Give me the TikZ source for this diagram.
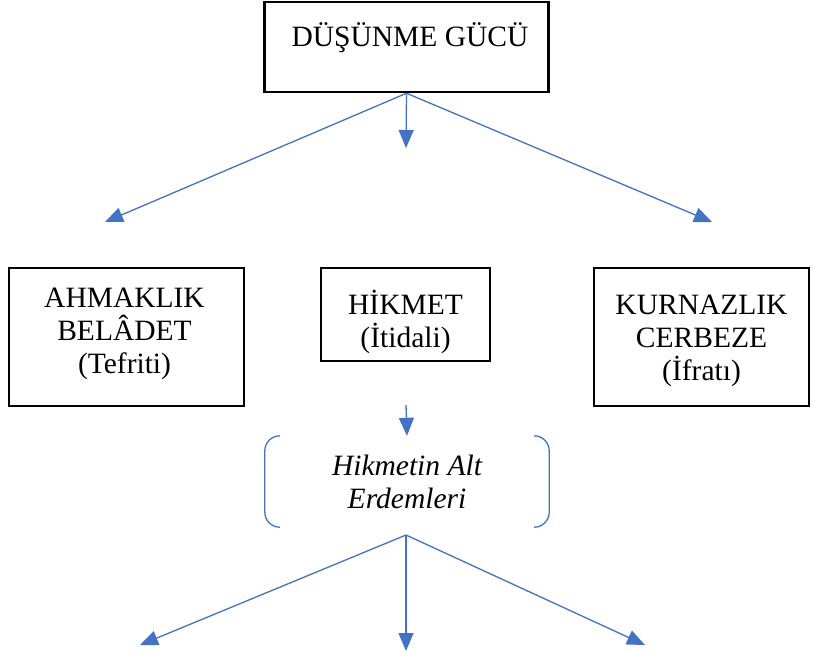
\documentclass[tikz,border=0pt]{standalone}
\usepackage{fontspec}
\setmainfont{Liberation Serif}
\usetikzlibrary{arrows.meta}
\definecolor{okmavi}{HTML}{4472C4}

\begin{document}
\begin{tikzpicture}[x=1pt, y=-1pt]
	\useasboundingbox (0,0) rectangle (813,659);
	\tikzset{
		kutu/.style={draw=black, line width=2.5pt, inner sep=0pt},
		yazi/.style={align=center, inner sep=0pt, font=\fontsize{29.5}{33}\selectfont},
		ok/.style={-{Triangle[length=18pt,width=15pt]}, draw=okmavi, fill=okmavi, line width=1.3pt}
	}

	%% Frames
	\node[kutu, minimum width=284, minimum height=90] (guc) at (406.5,47) {};
	\node[kutu, minimum width=235, minimum height=138] (ahmak) at (126.5,337) {};
	\node[kutu, minimum width=169, minimum height=93] (hikmet) at (405.5,314.5) {};
	\node[kutu, minimum width=215, minimum height=138] (kurnaz) at (701.5,337) {};

	%% Texts
	\node[yazi] (gucyazi) at (410,38) {D\"U\c{S}\"UNME G\"UC\"U};
	\node[yazi] (ahmakyazi) at (124.5,334) {AHMAKLIK\\BEL\^ADET\\(Tefriti)};
	\node[yazi] (hikmetyazi) at (405.5,321.5) {H\.IKMET\\(\.Itidali)};
	\node[yazi] (kurnazyazi) at (701.5,341) {KURNAZLIK\\CERBEZE\\(\.Ifrat\i)};
	\node[yazi, font=\fontsize{29.5}{33}\selectfont\itshape, minimum width=284, minimum height=91] (alt) at (407,481.5) {Hikmetin Alt\\Erdemleri};

	%% Bracket
	\draw[okmavi, line width=1.3pt, rounded corners=15pt]
	([xshift=15pt]alt.north west) -- (alt.north west) -- (alt.south west) -- ([xshift=15pt]alt.south west);
	\draw[okmavi, line width=1.3pt, rounded corners=15pt]
	([xshift=-15pt]alt.north east) -- (alt.north east) -- (alt.south east) -- ([xshift=-15pt]alt.south east);

	%% Arrow ends
	\coordinate (g1) at (105,222);
	\coordinate (g2) at (406,148);
	\coordinate (g3) at (712,222);
	\coordinate (h0) at (406,405);
	\coordinate (a0) at (406,535);
	\coordinate (a1) at (140,645);
	\coordinate (a2) at (406,651);
	\coordinate (a3) at (645,645);

	%% Arrows
	\draw[ok] (guc.south) -- (g1);
	\draw[ok] (guc.south) -- (g2);
	\draw[ok] (guc.south) -- (g3);
	\draw[ok] (h0) -- (alt.north);
	\draw[ok] (a0) -- (a1);
	\draw[ok] (a0) -- (a2);
	\draw[ok] (a0) -- (a3);

\end{tikzpicture}
\end{document}
